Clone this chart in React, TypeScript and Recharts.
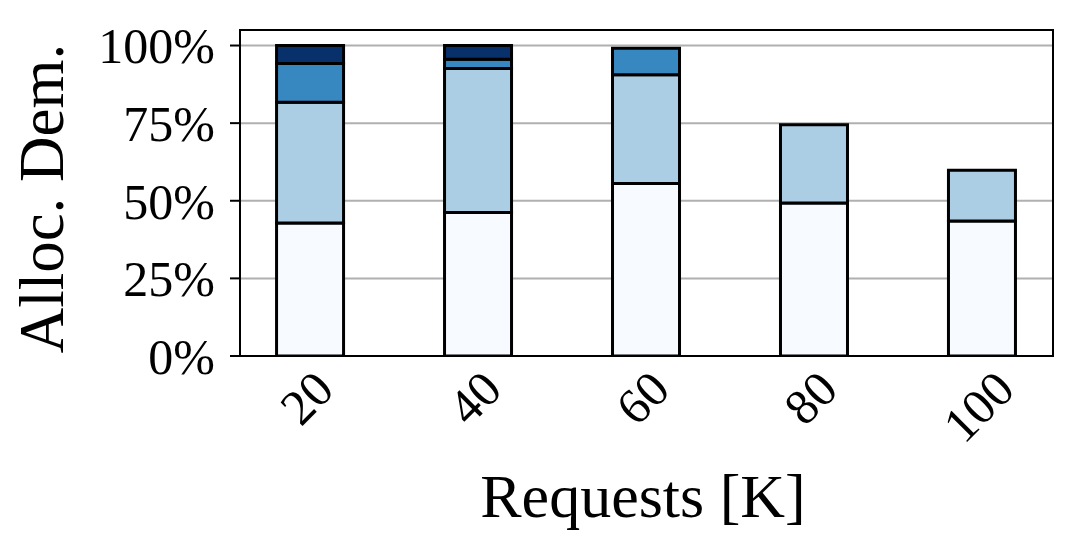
import React from "react";
import {
    BarChart,
    Bar,
    XAxis,
    YAxis,
    CartesianGrid,
    ReferenceArea,
} from "recharts";

// request load (K) on the x axis
const categories = ["20", "40", "60", "80", "100"];

// share of the demand per allocation tier, in percent
const tier1 = [42.8, 46.2, 55.6, 49.3, 43.5];
const tier2 = [38.9, 46.4, 35.0, 25.2, 16.3];
const tier3 = [12.5, 3.0, 8.5, 0, 0];
const tier4 = [5.8, 4.4, 0, 0, 0];

const yTicks = [0, 25, 50, 75, 100];

const COLORS = ["#f7fbff", "#abcee4", "#3787c0", "#08306b"];
const FONT = "'Liberation Serif', 'Times New Roman', serif";

const data = categories.map((c, i) => ({
    idx: i,
    label: c,
    t1: tier1[i],
    t2: tier2[i],
    t3: tier3[i],
    t4: tier4[i],
}));

const W = 1076;
const H = 549;

function RotatedTick(props: any) {
    const { x, y, payload } = props;
    const text = categories[payload.value] ?? "";
    const fs = 50;
    const w = text.length * 0.5 * fs;
    const boxH = (w + 34) * 0.7071;
    const cx = x - 4;
    const cy = y + 12 + boxH / 2;
    return (
        <text
            x={cx}
            y={cy}
            textAnchor="middle"
            dominantBaseline="central"
            fontFamily={FONT}
            fontSize={fs}
            fill="#000"
            transform={`rotate(-45, ${cx}, ${cy})`}
        >
            {text}
        </text>
    );
}

export default function App() {
    return (
        <div
            style={{
                position: "absolute",
                left: 0,
                top: 0,
                width: W,
                height: H,
                background: "#fff",
            }}
        >
            <BarChart
                width={W}
                height={H}
                data={data}
                margin={{ top: 30, right: 23, left: 0, bottom: 0 }}
                barSize={67}
            >
                <CartesianGrid
                    horizontal={true}
                    vertical={false}
                    stroke="#b0b0b0"
                    strokeWidth={2}
                />
                <XAxis
                    dataKey="idx"
                    type="number"
                    domain={[-0.42, 4.42]}
                    ticks={[0, 1, 2, 3, 4]}
                    allowDataOverflow
                    height={193}
                    tickLine={false}
                    tickSize={0}
                    tickMargin={0}
                    axisLine={{ stroke: "#000", strokeWidth: 2 }}
                    tick={<RotatedTick />}
                    interval={0}
                />
                <YAxis
                    domain={[0, 105]}
                    ticks={yTicks}
                    allowDataOverflow
                    width={240}
                    tickSize={10}
                    tickMargin={15}
                    tickFormatter={(v) => `${v}%`}
                    axisLine={{ stroke: "#000", strokeWidth: 2 }}
                    tickLine={{ stroke: "#000", strokeWidth: 2 }}
                    tick={{ fill: "#000", fontSize: 50, fontFamily: FONT }}
                />
                <Bar dataKey="t1" stackId="a" fill={COLORS[0]} stroke="#000" strokeWidth={3} isAnimationActive={false} />
                <Bar dataKey="t2" stackId="a" fill={COLORS[1]} stroke="#000" strokeWidth={3} isAnimationActive={false} />
                <Bar dataKey="t3" stackId="a" fill={COLORS[2]} stroke="#000" strokeWidth={3} isAnimationActive={false} />
                <Bar dataKey="t4" stackId="a" fill={COLORS[3]} stroke="#000" strokeWidth={3} isAnimationActive={false} />
                <ReferenceArea
                    x1={-0.42}
                    x2={4.42}
                    y1={0}
                    y2={105}
                    fill="none"
                    fillOpacity={0}
                    stroke="#000"
                    strokeWidth={2}
                    ifOverflow="visible"
                />
            </BarChart>
            <svg
                width={W}
                height={H}
                style={{ position: "absolute", left: 0, top: 0, pointerEvents: "none" }}
            >
                <text
                    x={63}
                    y={198.5}
                    textAnchor="middle"
                    fontFamily={FONT}
                    fontSize={63}
                    fill="#000"
                    transform="rotate(-90, 63, 198.5)"
                >
                    Alloc. Dem.
                </text>
                <text
                    x={643}
                    y={517}
                    textAnchor="middle"
                    fontFamily={FONT}
                    fontSize={62}
                    fill="#000"
                >
                    Requests [K]
                </text>
            </svg>
        </div>
    );
}
